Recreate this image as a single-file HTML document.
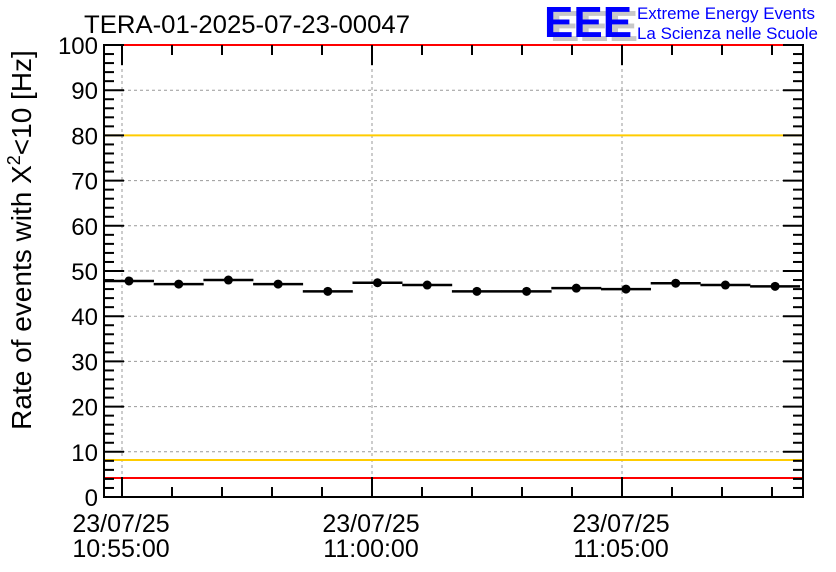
<!DOCTYPE html>
<html><head><meta charset="utf-8"><style>
body{margin:0;background:#fff;}
svg{display:block;font-family:"Liberation Sans",sans-serif;}
</style></head><body>
<svg width="836" height="572" viewBox="0 0 836 572" xmlns="http://www.w3.org/2000/svg">
<rect width="836" height="572" fill="#fff"/>
<g stroke="#999" stroke-dasharray="3,3" stroke-width="1">
<line x1="122" y1="45" x2="122" y2="497"/><line x1="372" y1="45" x2="372" y2="497"/><line x1="622" y1="45" x2="622" y2="497"/>
<line x1="104" y1="90.2" x2="803" y2="90.2"/><line x1="104" y1="135.4" x2="803" y2="135.4"/><line x1="104" y1="180.6" x2="803" y2="180.6"/><line x1="104" y1="225.8" x2="803" y2="225.8"/><line x1="104" y1="271" x2="803" y2="271"/><line x1="104" y1="316.2" x2="803" y2="316.2"/><line x1="104" y1="361.4" x2="803" y2="361.4"/><line x1="104" y1="406.6" x2="803" y2="406.6"/><line x1="104" y1="451.8" x2="803" y2="451.8"/>
</g>
<line x1="104" y1="135.4" x2="803" y2="135.4" stroke="#ffcc00" stroke-width="2"/>
<line x1="104" y1="460" x2="803" y2="460" stroke="#ffcc00" stroke-width="2"/>
<line x1="104" y1="478" x2="803" y2="478" stroke="#ff0000" stroke-width="2"/>
<rect x="104" y="45" width="699" height="452" stroke="#000" stroke-width="2" fill="none"/>
<line x1="104" y1="45" x2="803" y2="45" stroke="#ff0000" stroke-width="2"/>
<g stroke="#000" stroke-width="2" id="ticks"></g>
<g id="data" stroke="#000" stroke-width="2.5"></g>
<g font-size="24" fill="#000" text-anchor="end" id="ylab"></g>
<text x="84" y="33" font-size="25" textLength="326" lengthAdjust="spacingAndGlyphs">TERA-01-2025-07-23-00047</text>
<g font-size="25" text-anchor="middle">
<text x="121" y="532">23/07/25</text><text x="121" y="557">10:55:00</text>
<text x="371" y="532">23/07/25</text><text x="371" y="557">11:00:00</text>
<text x="621" y="532">23/07/25</text><text x="621" y="557">11:05:00</text>
</g>
<text transform="translate(31,240) rotate(-90)" font-size="28" text-anchor="middle">Rate of events with Χ<tspan dy="-11" font-size="18">2</tspan><tspan dy="11">&lt;10 [Hz]</tspan></text>
<g font-size="44" font-weight="bold">
<text x="550" y="41" fill="#c8c8c8">EEE</text>
<text x="544" y="37" fill="#0000ff">EEE</text>
</g>
<text x="637" y="19" font-size="16.5" fill="#0000ff" textLength="178" lengthAdjust="spacingAndGlyphs">Extreme Energy Events</text>
<text x="637" y="39" font-size="16.5" fill="#0000ff" textLength="181" lengthAdjust="spacingAndGlyphs">La Scienza nelle Scuole</text>
</svg>
<script>
var ns="http://www.w3.org/2000/svg";
function L(g,x1,y1,x2,y2){var l=document.createElementNS(ns,"line");l.setAttribute("x1",x1);l.setAttribute("y1",y1);l.setAttribute("x2",x2);l.setAttribute("y2",y2);g.appendChild(l);}
var t=document.getElementById("ticks");
for(var v=0;v<=100;v+=2){var y=497-v*4.52;var len=v%10==0?20:10;L(t,104,y,104+len,y);L(t,803,y,803-len,y);}
for(var x=122;x<803;x+=50){var len=((x-122)%250==0)?20:10;L(t,x,497,x,497-len);L(t,x,45,x,45+len);}
var yl=document.getElementById("ylab");
for(var v=0;v<=100;v+=10){var tx=document.createElementNS(ns,"text");tx.setAttribute("x",98);tx.setAttribute("y",497-v*4.52+9);tx.textContent=v;yl.appendChild(tx);}
var d=[47.8,47.1,48.0,47.1,45.5,47.4,46.9,45.5,45.5,46.2,46.0,47.3,46.9,46.6];
var g=document.getElementById("data");
d.forEach(function(v,i){var x=129+i*50-0.3*i;var y=497-v*4.52;L(g,x-25,y,x+25,y);var c=document.createElementNS(ns,"circle");c.setAttribute("cx",x);c.setAttribute("cy",y);c.setAttribute("r",4.5);c.setAttribute("fill","#000");c.setAttribute("stroke","none");g.appendChild(c);});
</script>
</body></html>
